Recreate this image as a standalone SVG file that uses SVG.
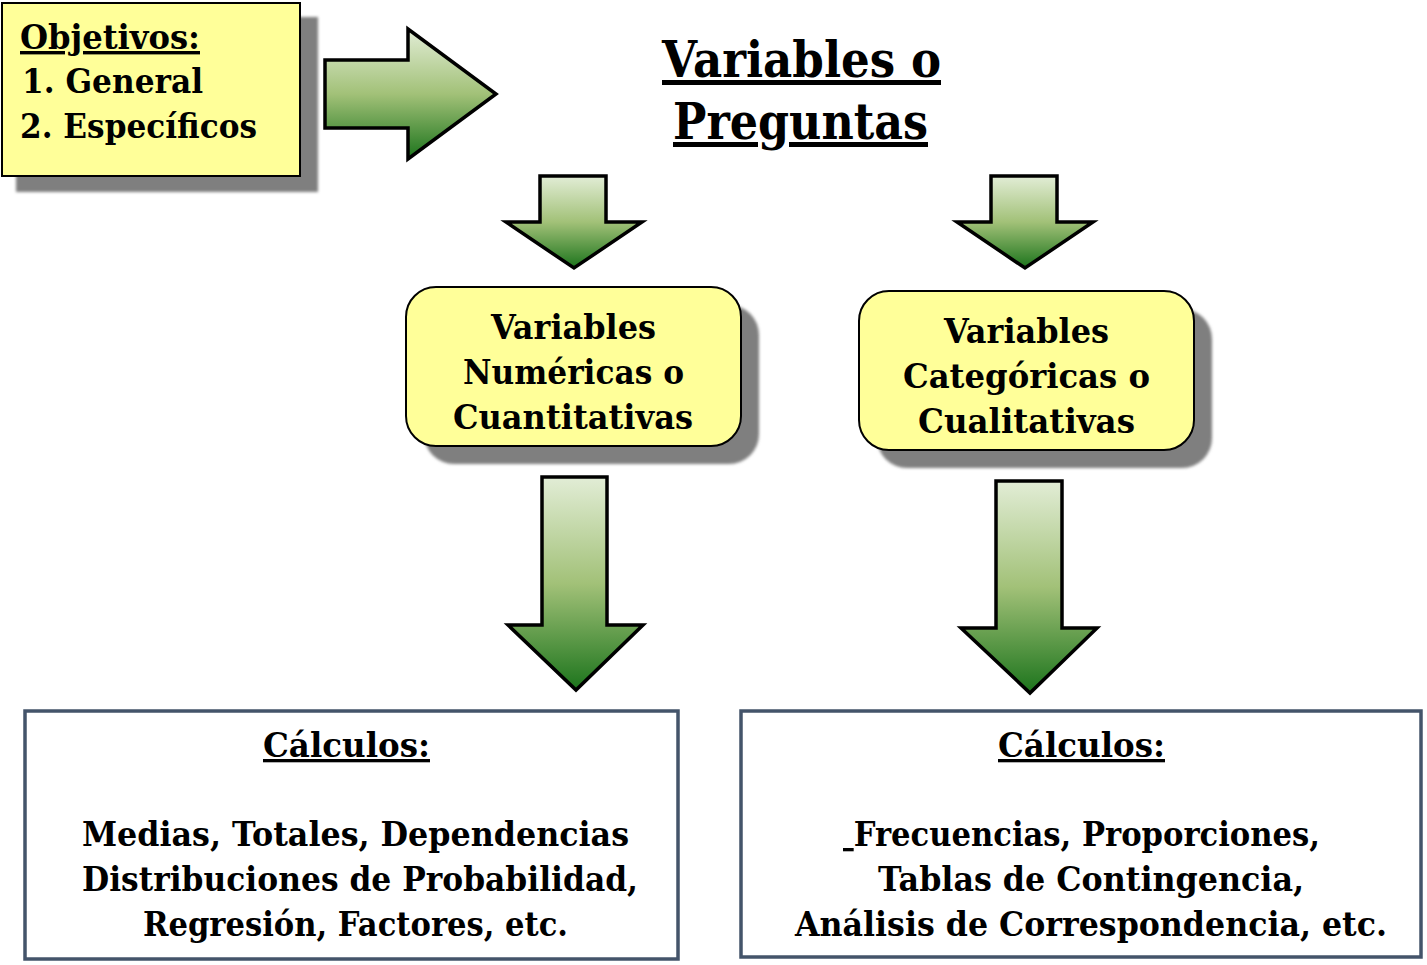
<svg xmlns="http://www.w3.org/2000/svg" width="1427" height="965" viewBox="0 0 1427 965">
<defs>
<linearGradient id="g" x1="0" y1="0" x2="0" y2="1">
<stop offset="0" stop-color="#e2edd6"/>
<stop offset="0.5" stop-color="#a2c178"/>
<stop offset="1" stop-color="#1c741c"/>
</linearGradient>
<filter id="blur" x="-5%" y="-5%" width="110%" height="110%"><feGaussianBlur stdDeviation="1.5"/></filter>
<style>
text{font-family:"DejaVu Serif","Liberation Serif",serif;font-weight:bold;fill:#000}
.arrow{fill:url(#g);stroke:#000;stroke-width:3.5;stroke-linejoin:miter}
.shadow{fill:#7f7f7f;filter:url(#blur)}
.yellow{fill:#ffff99;stroke:#000;stroke-width:2}
.calc{fill:#fff;stroke:#44546a;stroke-width:3.5}
.u{text-decoration:underline}
.t34{font-size:33px}
.t35{font-size:34px}
.title{font-size:50px}
</style>
</defs>
<rect width="1427" height="965" fill="#fff"/>

<g id="objetivos">
<rect class="shadow" x="16" y="17" width="302" height="175"/>
<rect class="yellow" x="2" y="3" width="298" height="173"/>
<text class="t35 u" x="20" y="49" textLength="180" lengthAdjust="spacingAndGlyphs">Objetivos:</text>
<text class="t35" x="22" y="93" textLength="181" lengthAdjust="spacingAndGlyphs">1. General</text>
<text class="t35" x="20" y="138" textLength="237" lengthAdjust="spacingAndGlyphs">2. Específicos</text>
</g>

<g id="titulo">
<text class="title u" x="662" y="77" textLength="279" lengthAdjust="spacingAndGlyphs">Variables o</text>
<text class="title u" x="673" y="139" textLength="255" lengthAdjust="spacingAndGlyphs">Preguntas</text>
</g>

<g id="numericas">
<rect class="shadow" x="424" y="305" width="335" height="159" rx="30"/>
<rect class="yellow" x="406" y="287" width="335" height="159" rx="30"/>
<text class="t34" x="491" y="339" textLength="165" lengthAdjust="spacingAndGlyphs">Variables</text>
<text class="t34" x="463" y="384" textLength="221" lengthAdjust="spacingAndGlyphs">Numéricas o</text>
<text class="t34" x="453" y="429" textLength="240" lengthAdjust="spacingAndGlyphs">Cuantitativas</text>
</g>

<g id="categoricas">
<rect class="shadow" x="877" y="309" width="335" height="159" rx="30"/>
<rect class="yellow" x="859" y="291" width="335" height="159" rx="30"/>
<text class="t34" x="944" y="343" textLength="165" lengthAdjust="spacingAndGlyphs">Variables</text>
<text class="t34" x="903" y="388" textLength="247" lengthAdjust="spacingAndGlyphs">Categóricas o</text>
<text class="t34" x="918" y="433" textLength="217" lengthAdjust="spacingAndGlyphs">Cualitativas</text>
</g>

<g id="calculos-numericas">
<rect class="calc" x="25" y="711" width="653" height="248"/>
<text class="t34 u" x="263" y="757" textLength="167" lengthAdjust="spacingAndGlyphs">Cálculos:</text>
<text class="t34" x="82" y="846" textLength="547" lengthAdjust="spacingAndGlyphs">Medias, Totales, Dependencias</text>
<text class="t34" x="82" y="891" textLength="556" lengthAdjust="spacingAndGlyphs">Distribuciones de Probabilidad,</text>
<text class="t34" x="143" y="936" textLength="425" lengthAdjust="spacingAndGlyphs">Regresión, Factores, etc.</text>
</g>

<g id="calculos-categoricas">
<rect class="calc" x="741" y="711" width="680" height="246"/>
<text class="t34 u" x="998" y="757" textLength="167" lengthAdjust="spacingAndGlyphs">Cálculos:</text>
<text class="t34" x="843" y="846" textLength="477" lengthAdjust="spacingAndGlyphs"><tspan class="u">&#160;</tspan>Frecuencias, Proporciones,</text>
<text class="t34" x="878" y="891" textLength="426" lengthAdjust="spacingAndGlyphs">Tablas de Contingencia,</text>
<text class="t34" x="795" y="936" textLength="592" lengthAdjust="spacingAndGlyphs">Análisis de Correspondencia, etc.</text>
</g>

<g id="connectors">
<polygon class="arrow" points="325,60 408,60 408,29 496,94 408,159 408,128 325,128"/>
<polygon class="arrow" points="540,176 606,176 606,222 642,222 574,268 506,222 540,222"/>
<polygon class="arrow" points="991,176 1057,176 1057,222 1093,222 1025,268 957,222 991,222"/>
<polygon class="arrow" points="542,477 607,477 607,625 643,625 576,690 508,625 542,625"/>
<polygon class="arrow" points="996,481 1062,481 1062,628 1097,628 1030,693 961,628 996,628"/>
</g>
</svg>
